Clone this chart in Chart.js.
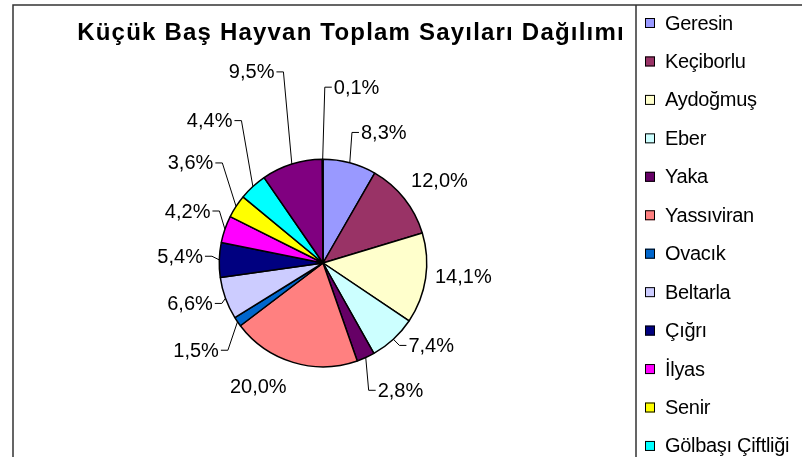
<!DOCTYPE html>
<html lang="tr">
<head>
    <meta charset="UTF-8">
    <title>Küçük Baş Hayvan Toplam Sayıları Dağılımı</title>
    <script src="https://cdn.jsdelivr.net/npm/chart.js@4"></script>
    <style>
        body { margin: 0; background: #fff; }
        canvas { display: block; }
    </style>
</head>
<body>
    <canvas id="pieChart" width="802" height="457"></canvas>

<script>
    // köy adları (son iki dilimin adı lejantta kesik, okunamıyor)
    const villages = ["Geresin", "Keçiborlu", "Aydoğmuş", "Eber", "Yaka", "Yassıviran", "Ovacık",
        "Beltarla", "Çığrı", "İlyas", "Senir", "Gölbaşı Çiftliği", "", ""];
    // yüzde payları
    const shares = [8.3, 12.0, 14.1, 7.4, 2.8, 20.0, 1.5, 6.6, 5.4, 4.2, 3.6, 4.4, 9.5, 0.1];
    const sliceColors = ["#9999FF", "#993366", "#FFFFCC", "#CCFFFF", "#660066", "#FF8080", "#0066CC",
        "#CCCCFF", "#000080", "#FF00FF", "#FFFF00", "#00FFFF", "#800080", "#800000"];

    const chartTitle = "Küçük Baş Hayvan Toplam Sayıları Dağılımı";

    // etiket yerleşimi: [açı kaydırma (derece), merkezden uzaklık], kılavuz çizgisi var mı
    const labelNudge = [[10, 144], [3, 143], [-3, 141], [-10, 136], [-7, 149], [11, 139], [0, 154],
        [3, 139], [1, 143], [2, 145], [4, 166], [4, 182], [-3, 204], [11, 179]];
    const labelLeader = [true, false, false, true, true, false, true,
        true, true, true, true, true, true, true];

    function fmt(v) {
        return v.toFixed(1).replace(".", ",") + "%";
    }

    const decorPlugin = {
        id: "decor",
        afterDraw(chart) {
            const ctx = chart.ctx;
            ctx.save();

            // dış çerçeve
            ctx.strokeStyle = "#333";
            ctx.lineWidth = 1.5;
            ctx.beginPath();
            ctx.moveTo(13, 460);
            ctx.lineTo(13, 5);
            ctx.lineTo(805, 5);
            ctx.moveTo(636, 5);
            ctx.lineTo(636, 460);
            ctx.stroke();

            // başlık
            ctx.fillStyle = "#000";
            ctx.font = "bold 24px 'Liberation Sans', Arial, sans-serif";
            ctx.letterSpacing = "1.2px";
            ctx.textAlign = "center";
            ctx.textBaseline = "alphabetic";
            ctx.fillText(chartTitle, 351, 40);

            // dilim etiketleri
            const arcs = chart.getDatasetMeta(0).data;
            ctx.font = "20px 'Liberation Sans', Arial, sans-serif";
            ctx.letterSpacing = "0px";
            ctx.textBaseline = "middle";
            ctx.strokeStyle = "#000";
            ctx.lineWidth = 1;
            arcs.forEach(function (arc, i) {
                const p = arc.getProps(["x", "y", "startAngle", "endAngle", "outerRadius"], true);
                const mid = (p.startAngle + p.endAngle) / 2;
                const a = mid + labelNudge[i][0] * Math.PI / 180;
                const lx = p.x + Math.cos(a) * labelNudge[i][1];
                const ly = p.y + Math.sin(a) * labelNudge[i][1];
                const txt = fmt(shares[i]);
                const w = ctx.measureText(txt).width;
                const right = lx >= p.x;
                ctx.textAlign = "center";
                ctx.fillText(txt, lx, ly + 1);
                if (labelLeader[i]) {
                    const ex = p.x + Math.cos(mid) * p.outerRadius;
                    const ey = p.y + Math.sin(mid) * p.outerRadius;
                    const edge = right ? lx - w / 2 - 2 : lx + w / 2 + 2;
                    const elbow = right ? edge - 7 : edge + 7;
                    ctx.beginPath();
                    ctx.moveTo(ex, ey);
                    ctx.lineTo(elbow, ly);
                    ctx.lineTo(edge, ly);
                    ctx.stroke();
                }
            });

            // lejant
            ctx.font = "20px 'Liberation Sans', Arial, sans-serif";
            ctx.letterSpacing = "-0.3px";
            ctx.textAlign = "left";
            let row = 0;
            villages.forEach(function (name, i) {
                if (!name) return;
                const cy = 23 + row * 38.45;
                ctx.fillStyle = sliceColors[i];
                ctx.fillRect(645, cy - 5, 10, 10);
                ctx.strokeStyle = "#000";
                ctx.lineWidth = 1;
                ctx.strokeRect(645.5, cy - 4.5, 9, 9);
                ctx.fillStyle = "#000";
                ctx.fillText(name, 665, cy + 1);
                row++;
            });

            ctx.restore();
        }
    };

    new Chart("pieChart", {
        type: "pie",
        data: {
            labels: villages,
            datasets: [{
                data: shares,
                backgroundColor: sliceColors,
                borderColor: "#000",
                borderWidth: 1.5,
                hoverOffset: 0,
                offset: 0
            }]
        },
        options: {
            responsive: false,
            animation: false,
            events: [],
            layout: {
                padding: { left: 218.5, right: 374.5, top: 158.5, bottom: 89.5 }
            },
            plugins: {
                legend: { display: false },
                title: { display: false },
                tooltip: { enabled: false }
            }
        },
        plugins: [decorPlugin]
    });
</script>
</body>
</html>
